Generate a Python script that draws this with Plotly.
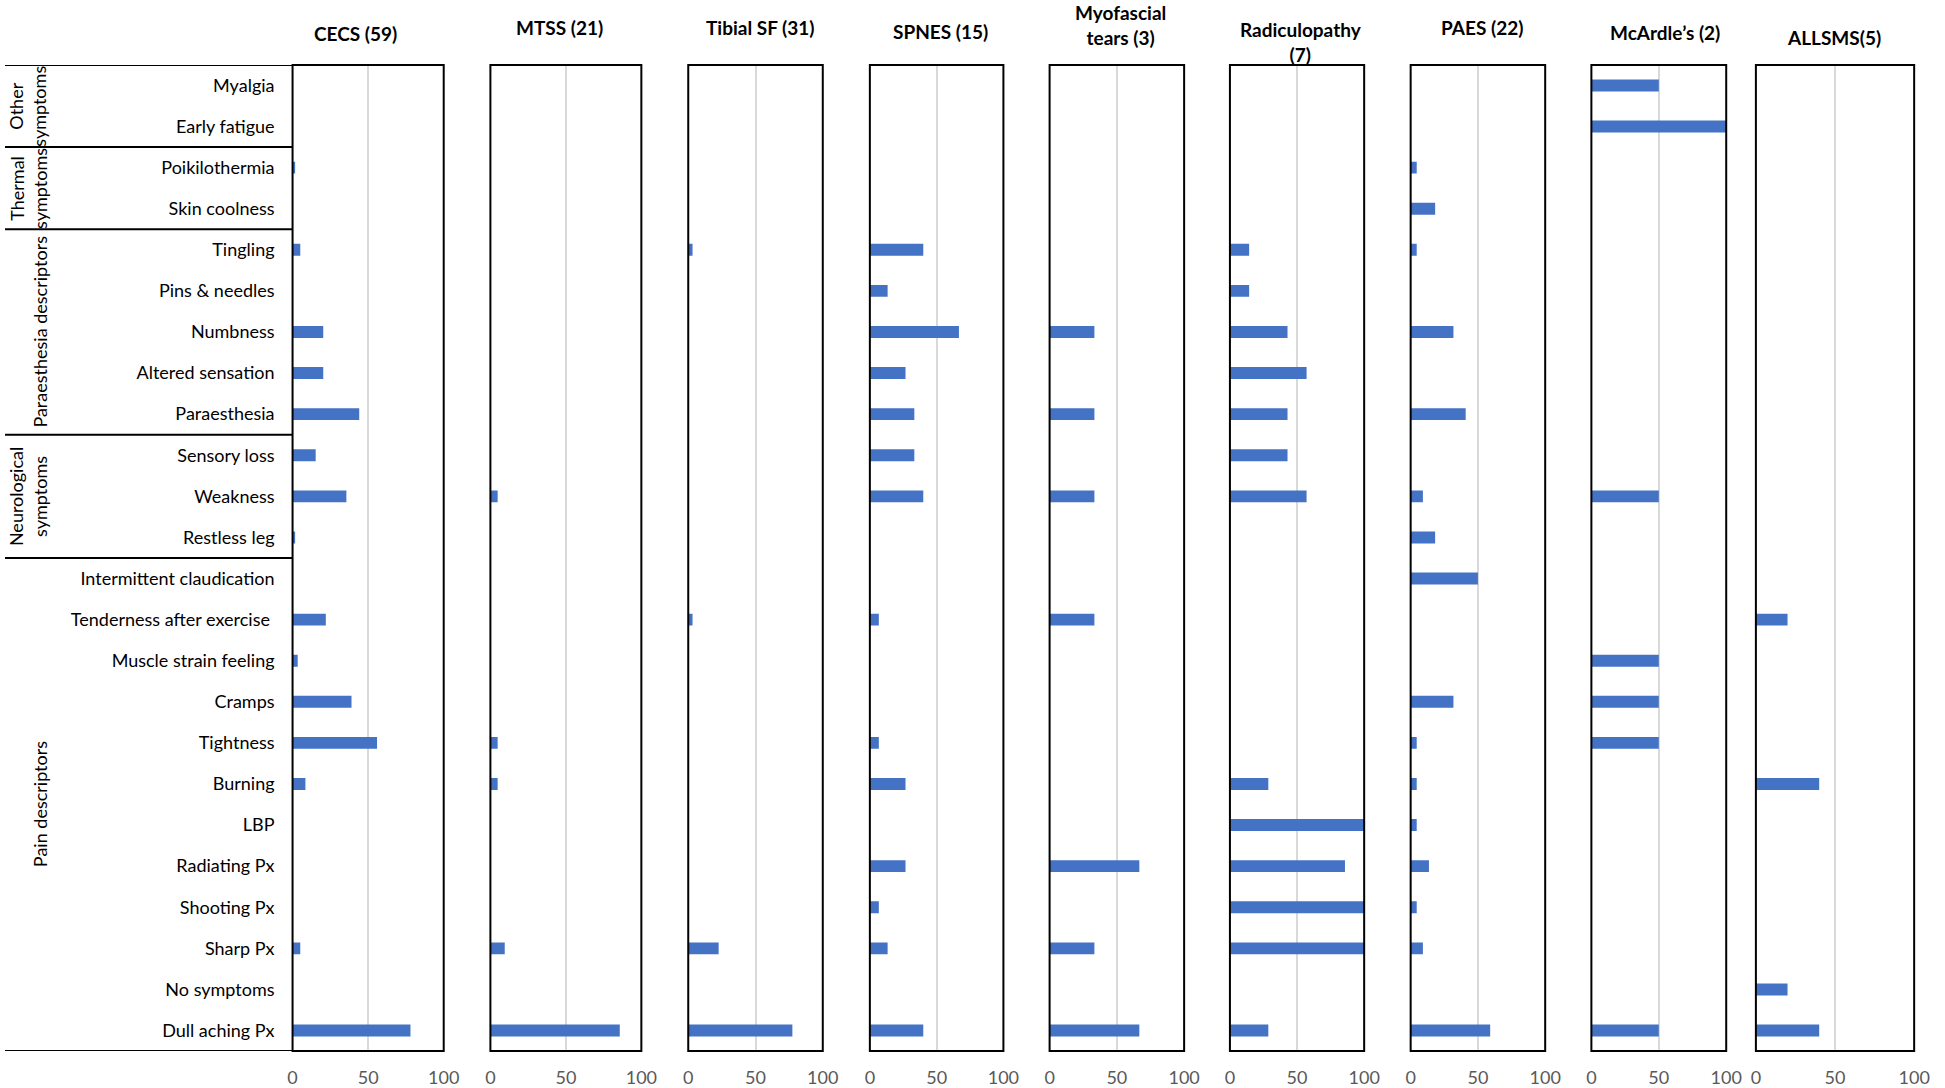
import plotly.graph_objects as go

# ---------------- data ----------------
categories = [
    "Myalgia", "Early fatigue", "Poikilothermia", "Skin coolness", "Tingling",
    "Pins & needles", "Numbness", "Altered sensation", "Paraesthesia",
    "Sensory loss", "Weakness", "Restless leg", "Intermittent claudication",
    "Tenderness after exercise\u00a0", "Muscle strain feeling", "Cramps",
    "Tightness", "Burning", "LBP", "Radiating Px", "Shooting Px", "Sharp Px",
    "No symptoms", "Dull aching Px",
]

group_labels = ["Other<br>symptoms", "Thermal<br>symptoms",
                "Paraesthesia descriptors", "Neurological<br>symptoms",
                "Pain descriptors"]
group_sizes = [2, 2, 5, 3, 12]

panel_titles = ["CECS (59)", "MTSS (21)", "Tibial SF (31)", "SPNES (15)",
                "Myofascial<br>tears (3)", "Radiculopathy<br>(7)", "PAES (22)",
                "McArdle\u2019s (2)", "ALLSMS(5)"]

#            Mya  EF   Poik Skin Ting Pins Numb Alt  Para Sens Weak Rest Int  Tend Musc Cram Tigh Burn LBP  Rad  Shoo Shar NoS  Dull
cecs      = [0,   0,   1.7, 0,   5.1, 0,   20.3,20.3,44.1,15.3,35.6,1.7, 0,   22.0,3.4, 39.0,55.9,8.5, 0,   0,   0,   5.1, 0,   78.0]
mtss      = [0,   0,   0,   0,   0,   0,   0,   0,   0,   0,   4.8, 0,   0,   0,   0,   0,   4.8, 4.8, 0,   0,   0,   9.5, 0,   85.7]
tibial_sf = [0,   0,   0,   0,   3.2, 0,   0,   0,   0,   0,   0,   0,   0,   3.2, 0,   0,   0,   0,   0,   0,   0,   22.6,0,   77.4]
spnes     = [0,   0,   0,   0,   40.0,13.3,66.7,26.7,33.3,33.3,40.0,0,   0,   6.7, 0,   0,   6.7, 26.7,0,   26.7,6.7, 13.3,0,   40.0]
myofascial= [0,   0,   0,   0,   0,   0,   33.3,0,   33.3,0,   33.3,0,   0,   33.3,0,   0,   0,   0,   0,   66.7,0,   33.3,0,   66.7]
radiculo  = [0,   0,   0,   0,   14.3,14.3,42.9,57.1,42.9,42.9,57.1,0,   0,   0,   0,   0,   0,   28.6,100, 85.7,100, 100, 0,   28.6]
paes      = [0,   0,   4.5, 18.2,4.5, 0,   31.8,0,   40.9,0,   9.1, 18.2,50.0,0,   0,   31.8,4.5, 4.5, 4.5, 13.6,4.5, 9.1, 0,   59.1]
mcardle   = [50,  100, 0,   0,   0,   0,   0,   0,   0,   0,   50,  0,   0,   0,   50,  50,  50,  0,   0,   0,   0,   0,   0,   50]
allsms    = [0,   0,   0,   0,   0,   0,   0,   0,   0,   0,   0,   0,   0,   20,  0,   0,   0,   40,  0,   0,   0,   0,   20,  40]

panel_values = [cecs, mtss, tibial_sf, spnes, myofascial, radiculo, paes, mcardle, allsms]

tick_values = [0, 50, 100]
tick_labels = ["0", "50", "100"]

# ---------------- layout geometry (pixels) ----------------
W, H = 1945, 1088
FRAME_TOP, FRAME_BOTTOM = 65, 1053
panel_px = [(290.7, 443.5), (490.7, 643.3), (690.7, 826.7), (874.3, 1009.3),
            (1056.0, 1192.0), (1238.3, 1374.0), (1421.0, 1557.0),
            (1603.7, 1740.0), (1770.0, 1930.0)]
title_px = [(354, 34), (561, 28), (764, 28), (946, 32), (1128, 25),
            (1310, 42), (1493, 28), (1678, 33), (1849, 38)]

BAR_COLOR = "#4472C4"
FONT = "Lato, 'Open Sans', sans-serif"
TEXT_SIZE = 18

fig = go.Figure()

n = len(categories)
for i, vals in enumerate(panel_values):
    ax = "x" if i == 0 else f"x{i + 1}"
    fig.add_trace(go.Bar(
        x=vals, y=categories, orientation="h",
        xaxis=ax, yaxis="y", width=0.29,
        marker=dict(color=BAR_COLOR, line=dict(width=0)),
        showlegend=False, hoverinfo="x+y",
    ))
    key = "xaxis" if i == 0 else f"xaxis{i + 1}"
    x0, x1 = panel_px[i]
    fig.layout[key] = dict(
        domain=[x0 / W, x1 / W], anchor="y", range=[0, 100],
        tickmode="array", tickvals=tick_values, ticktext=tick_labels,
        showgrid=True, gridcolor="#D9D9D9", gridwidth=1.5,
        zeroline=False, showline=False, ticks="",
        ticklabelstandoff=14,
        tickfont=dict(family=FONT, size=TEXT_SIZE, color="#595959"),
        fixedrange=True,
    )
    # panel frame
    fig.add_shape(type="rect", xref=f"{ax} domain", yref="y domain",
                  x0=0, x1=1, y0=0, y1=1,
                  line=dict(color="black", width=2), layer="above")
    # panel title
    tx, ty = title_px[i]
    fig.add_annotation(text=panel_titles[i], xref="paper", yref="paper",
                       x=tx / W, y=1 - ty / H, xanchor="center", yanchor="middle",
                       showarrow=False,
                       font=dict(family=FONT, size=TEXT_SIZE + 1, color="black",
                                 weight="bold"))

fig.update_layout(
    yaxis=dict(
        domain=[1 - FRAME_BOTTOM / H, 1 - FRAME_TOP / H], anchor="x",
        type="category", categoryorder="array", categoryarray=categories,
        range=[n - 0.5, -0.5], showgrid=False, zeroline=False, showline=False,
        ticks="", ticklabelstandoff=17,
        tickfont=dict(family=FONT, size=TEXT_SIZE, color="black"),
        fixedrange=True,
    ),
    width=W, height=H, margin=dict(l=0, r=0, t=0, b=0),
    autosize=False,
    paper_bgcolor="white", plot_bgcolor="white",
    bargap=0.71, showlegend=False,
)

# group separators and labels on the left
left_edge = panel_px[0][0] / W
pos = -0.5
fig.add_shape(type="line", xref="paper", yref="y", x0=0, x1=left_edge,
              y0=pos, y1=pos, line=dict(color="black", width=2))
for label, size in zip(group_labels, group_sizes):
    centre = pos + size / 2
    pos += size
    fig.add_shape(type="line", xref="paper", yref="y", x0=0, x1=left_edge,
                  y0=pos, y1=pos, line=dict(color="black", width=2))
    lx = 23 if "<br>" in label else 35
    fig.add_annotation(text=label, xref="paper", yref="y", x=lx / W, y=centre,
                       textangle=-90, showarrow=False, xanchor="center",
                       yanchor="middle",
                       font=dict(family=FONT, size=TEXT_SIZE, color="black"))

fig.write_html(
    "out.html",
    config={"displayModeBar": False, "responsive": False},
    post_script=("document.body.style.margin='0px';"
                 "document.body.style.overflow='hidden';"
                 "document.documentElement.style.overflow='hidden';"),
)
